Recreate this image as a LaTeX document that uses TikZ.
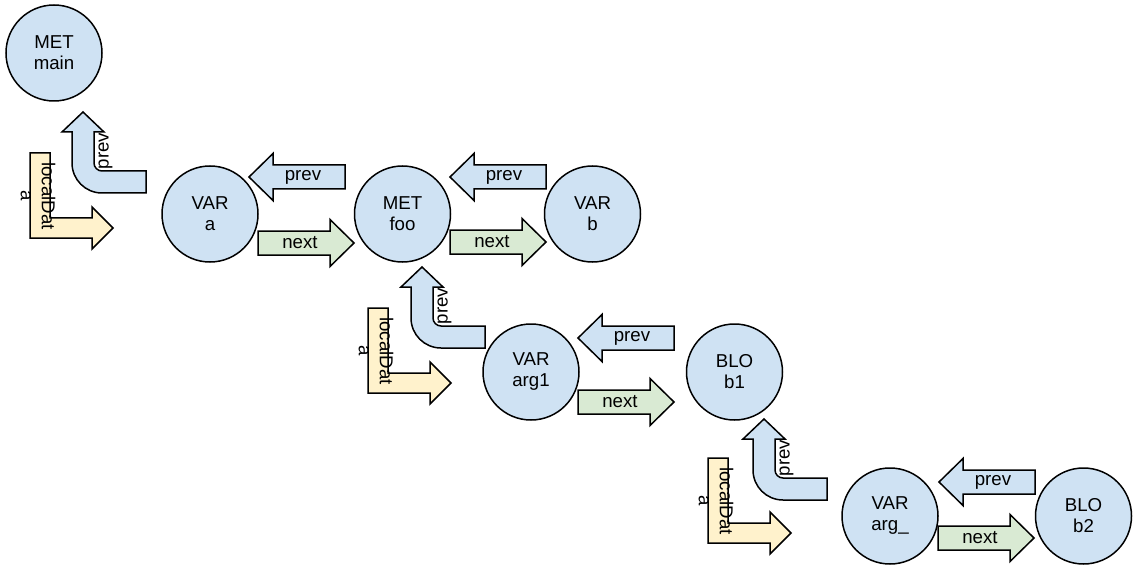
\documentclass[tikz,border=0pt]{standalone}
\usepackage{fontspec}
\setmainfont{Liberation Sans}
\definecolor{bluefill}{HTML}{CFE2F3}
\definecolor{greenfill}{HTML}{D9EAD3}
\definecolor{yellowfill}{HTML}{FFF2CC}
\newcommand\myprevarrow[3]{%
  \draw[blk, fill=bluefill] (#2,#3) -- ++(24,-23.5) -- ++(0,11.5) -- ++(72,0) -- ++(0,24) -- ++(-72,0) -- ++(0,11.5) -- cycle;
  \node[lbl] (#1) at ({#2+54},#3) {prev};}
\newcommand\mynextarrow[3]{%
  \draw[blk, fill=greenfill] (#2,{#3-12}) -- ++(72,0) -- ++(0,-11.5) -- ++(24,23.5) -- ++(-24,23.5) -- ++(0,-11.5) -- ++(-72,0) -- cycle;
  \node[lbl] (#1) at ({#2+42},#3) {next};}
\newcommand\mybentprev[3]{%
  \draw[blk, fill=bluefill] (#2,#3) -- ++(21,20) -- ++(-10,0) -- ({#2+11},{#3+51})
    .. controls ({#2+11},{#3+55.4}) and ({#2+14.6},{#3+59}) .. ({#2+19},{#3+59})
    -- ({#2+63},{#3+59}) -- ({#2+63},{#3+81}) -- ({#2+19},{#3+81})
    .. controls ({#2+2.4},{#3+81}) and ({#2-11},{#3+67.6}) .. ({#2-11},{#3+51})
    -- ({#2-11},{#3+20}) -- ({#2-21},{#3+20}) -- cycle;
  \node[lbl, rotate=90] (#1) at ({#2+22.5},{#3+39}) {prev};}
\newcommand\mylocaldat[3]{%
  \draw[blk, fill=yellowfill] ({#2-83},{#3-75}) -- ({#2-63},{#3-75}) -- ({#2-63},{#3-10}) -- ({#2-21},{#3-10}) -- ({#2-21},{#3-21}) -- (#2,#3) -- ({#2-21},{#3+21}) -- ({#2-21},{#3+10}) -- ({#2-83},{#3+10}) -- cycle;
  \node[lbl, rotate=-90, align=center] (#1) at ({#2-75},{#3-32}) {localDat\\a};}
\begin{document}
\begin{tikzpicture}[x=1pt, y=-1pt,
  every node/.style={font=\fontsize{18.67}{21}\selectfont},
  blk/.style={draw=black, line width=1.5pt, line join=miter},
  lbl/.style={inner sep=0pt},
  circ/.style={circle, draw=black, line width=1.5pt, fill=bluefill, minimum size=96pt, inner sep=0pt, align=center}]
\useasboundingbox (0,0) rectangle (1140,572);
% circles
\node[circ] (main) at (54,53) {MET\\main};
\node[circ] (a) at (210,214) {VAR\\a};
\node[circ] (foo) at (402.5,214) {MET\\foo};
\node[circ] (b) at (592.5,214) {VAR\\b};
\node[circ] (arg1) at (531,372) {VAR\\arg1};
\node[circ] (b1) at (734.5,372) {BLO\\b1};
\node[circ] (argu) at (890,516) {VAR\\arg\_};
\node[circ] (b2) at (1083.5,516) {BLO\\b2};
% horizontal arrows
\myprevarrow{p1}{249}{177}
\myprevarrow{p2}{450}{177}
\myprevarrow{p3}{578}{338}
\myprevarrow{p4}{939}{482}
\mynextarrow{n1}{258}{243}
\mynextarrow{n2}{450}{242}
\mynextarrow{n3}{578}{402}
\mynextarrow{n4}{938}{538}
% bent arrows
\mybentprev{bp1}{83}{112}
\mybentprev{bp2}{422}{267}
\mybentprev{bp3}{764}{419}
\mylocaldat{ld1}{113}{228}
\mylocaldat{ld2}{451}{383}
\mylocaldat{ld3}{791}{533}
\end{tikzpicture}
\end{document}
